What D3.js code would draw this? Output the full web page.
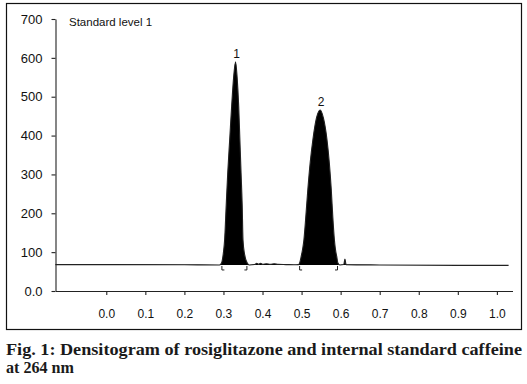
<!DOCTYPE html>
<html>
<head>
<meta charset="utf-8">
<script src="https://cdn.jsdelivr.net/npm/d3@7/dist/d3.min.js"></script>
<style>
  body { margin: 0; background: #fff; }
  svg { display: block; }
</style>
</head>
<body>
<svg id="chart"></svg>
<script>
var width = 527,
    height = 384;

// densitogram trace (Rf, AU)
var traceX = [-0.13, 0.0, 0.2, 0.29, 0.295, 0.300, 0.303, 0.307, 0.311, 0.316, 0.321, 0.326, 0.331,
              0.335, 0.339, 0.342, 0.345, 0.348, 0.350, 0.354, 0.361, 0.366,
              0.38, 0.385, 0.39, 0.395, 0.40, 0.41, 0.42, 0.43, 0.44, 0.46, 0.48, 0.492,
              0.495, 0.499, 0.503, 0.506, 0.510, 0.516, 0.522, 0.529, 0.538, 0.5475,
              0.556, 0.565, 0.571, 0.576, 0.580, 0.584, 0.587, 0.590, 0.593, 0.598,
              0.608, 0.611, 0.614, 0.7, 0.9, 1.03];
var traceY = [68, 68, 67.5, 67, 72, 100, 132, 220, 305, 390, 476, 550, 590,
              550, 476, 390, 305, 220, 132, 95, 72, 67,
              68, 71, 69, 71, 69, 70, 69, 70, 68.5, 68, 67.5, 68,
              72, 89, 110, 132, 180, 261, 330, 390, 445, 466,
              445, 390, 330, 261, 190, 132, 105, 89, 72, 67,
              68, 82, 68, 67, 66, 66];

var peakNames = ["1", "2"];
var peakRf = [0.331, 0.5475];
var peakMax = [590, 466];
var peakStart = [0.296, 0.495];
var peakEnd = [0.360, 0.592];

var xTicks = [0, 0.1, 0.2, 0.3, 0.4, 0.5, 0.6, 0.7, 0.8, 0.9, 1.0];
var yTicks = [0, 100, 200, 300, 400, 500, 600, 700];

var svg = d3.select("#chart")
    .attr("width", width)
    .attr("height", height)
    .style("font-family", "Liberation Sans, Arial, sans-serif");

svg.append("rect")
    .attr("width", width).attr("height", height)
    .attr("fill", "#fff");

// frame around the plot
svg.append("rect")
    .attr("x", 6.5).attr("y", 3.5)
    .attr("width", 515).attr("height", 326)
    .attr("fill", "none")
    .attr("stroke", "#111")
    .attr("stroke-width", 1.2);

var x = d3.scaleLinear().domain([-0.13, 1.04]).range([55.5, 512.5]);
var y = d3.scaleLinear().domain([0, 700]).range([291, 19]);

var pts = traceX.map((d, i) => [d, traceY[i]]);
var base = 67;

svg.append("path")
    .datum(pts)
    .attr("fill", "#000")
    .attr("d", d3.area()
        .x(d => x(d[0]))
        .y0(d => y(Math.min(base, d[1])))
        .y1(d => y(d[1]))
        .curve(d3.curveMonotoneX));

svg.append("path")
    .datum(pts)
    .attr("fill", "none")
    .attr("stroke", "#222")
    .attr("stroke-width", 1.1)
    .attr("d", d3.line()
        .x(d => x(d[0]))
        .y(d => y(d[1]))
        .curve(d3.curveMonotoneX));

// integration marks
var yb = y(base);
var marks = svg.append("g").attr("stroke", "#222").attr("fill", "none").attr("stroke-width", 1);
peakStart.forEach(s => {
    marks.append("path").attr("d", `M${x(s)},${yb + 1}V${yb + 5}h2.5`);
});
peakEnd.forEach(e => {
    marks.append("path").attr("d", `M${x(e)},${yb + 1}V${yb + 5}h-2.5`);
});

// peak numbers
svg.append("g").selectAll("text")
    .data(peakNames)
    .join("text")
    .attr("x", (d, i) => x(peakRf[i]) + 1)
    .attr("y", (d, i) => y(peakMax[i]) - 4)
    .attr("text-anchor", "middle")
    .attr("font-size", 12)
    .attr("fill", "#111")
    .text(d => d);

// axes
var yAxis = svg.append("g")
    .attr("transform", "translate(55.5,0)")
    .call(d3.axisLeft(y).tickValues(yTicks).tickSize(4).tickSizeOuter(0).tickPadding(9)
        .tickFormat(d => d === 0 ? "0.0" : d));
var xAxis = svg.append("g")
    .attr("transform", "translate(0,291)")
    .call(d3.axisBottom(x).tickValues(xTicks).tickSize(4).tickSizeOuter(0).tickPadding(14)
        .tickFormat(d3.format(".1f")));

[yAxis, xAxis].forEach(a => {
    a.selectAll("path, line").attr("stroke", "#222").attr("stroke-width", 1.1);
    a.selectAll("text").attr("fill", "#111").attr("font-family", "Liberation Sans, Arial, sans-serif");
});
yAxis.selectAll("text").attr("font-size", 13);
xAxis.selectAll("text").attr("font-size", 12);

svg.append("text")
    .attr("x", 69).attr("y", 26)
    .attr("font-size", 11.5)
    .attr("fill", "#111")
    .text("Standard level 1");

// caption
var cap = svg.append("g")
    .attr("font-family", "Liberation Serif, Times New Roman, serif")
    .attr("font-weight", "bold")
    .attr("font-size", 16)
    .attr("fill", "#1a1a1a");
cap.append("text").attr("x", 6).attr("y", 355)
    .attr("textLength", 516).attr("lengthAdjust", "spacingAndGlyphs")
    .text("Fig. 1: Densitogram of rosiglitazone and internal standard caffeine");
cap.append("text").attr("x", 6).attr("y", 373)
    .attr("textLength", 68).attr("lengthAdjust", "spacingAndGlyphs")
    .text("at 264 nm");
</script>
</body>
</html>
